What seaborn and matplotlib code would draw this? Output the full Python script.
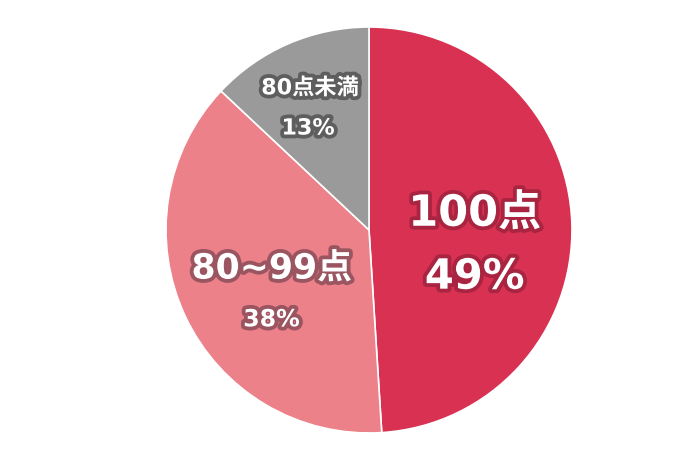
import matplotlib
matplotlib.use("Agg")
import matplotlib.pyplot as plt
import matplotlib.patheffects as pe
import seaborn as sns

# data
categories = ["100点", "80~99点", "80点未満"]
shares = [49, 38, 13]
colors = ["#D83152", "#EC818A", "#9A9A9A"]
outline_colors = ["#A82440", "#9A5560", "#5E5E5E"]

# label layout (data coords, pie radius = 1)
name_pos = [(0.52, 0.08), (-0.48, -0.19), (-0.29, 0.70)]
pct_pos = [(0.52, -0.23), (-0.48, -0.44), (-0.30, 0.50)]
name_size = [31, 25, 16]
pct_size = [30, 17, 16]

sns.set_style("white")
plt.rcParams["font.family"] = ["DejaVu Sans", "Noto Sans CJK JP"]

fig = plt.figure(figsize=(6.9, 4.6), dpi=100)
ax = fig.add_axes([165 / 690, 25 / 460, 408 / 690, 408 / 460])

ax.pie(
    shares,
    colors=colors,
    startangle=90,
    counterclock=False,
    radius=1,
    wedgeprops={"edgecolor": "white", "linewidth": 1.2},
)
ax.set_xlim(-1.005, 1.005)
ax.set_ylim(-1.005, 1.005)
ax.set_aspect("equal")
ax.axis("off")

for i, cat in enumerate(categories):
    effects = [pe.withStroke(linewidth=5.5, foreground=outline_colors[i])]
    ax.text(*name_pos[i], cat, ha="center", va="center", color="white",
            fontsize=name_size[i], fontweight="bold", path_effects=effects)
    ax.text(*pct_pos[i], f"{shares[i]}%", ha="center", va="center",
            color="white", fontsize=pct_size[i], fontweight="bold",
            path_effects=effects)

fig.savefig("out.png", dpi=100, facecolor="white")
